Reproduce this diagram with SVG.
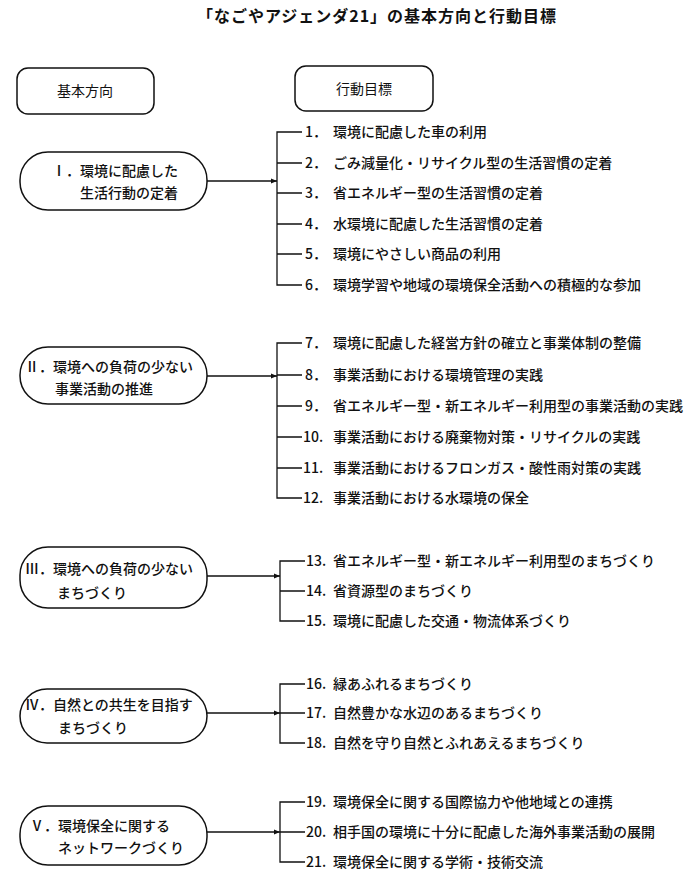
<svg xmlns="http://www.w3.org/2000/svg" width="700" height="874" viewBox="0 0 700 874">
<defs>
<style>
text{font-family:"Noto Sans CJK JP","Noto Sans CJK SC",sans-serif;fill:#111;}
.title{font-size:16px;font-weight:bold;letter-spacing:1px;}
.hdr{font-size:14px;}
.node{font-size:14px;font-weight:500;}
.item{font-size:14px;font-weight:500;}
.box{fill:#fff;stroke:#111;stroke-width:1.5;}
.ln{fill:none;stroke:#111;stroke-width:1.3;}
</style>
<marker id="arr" viewBox="0 0 10 10" refX="10" refY="5" markerWidth="6" markerHeight="6" orient="auto" markerUnits="userSpaceOnUse">
<path d="M0,1 L10,5 L0,9 z" fill="#111"/>
</marker>
</defs>
<rect width="700" height="874" fill="#fff"/>
<text class="title" x="377" y="22" text-anchor="middle">「なごやアジェンダ21」の基本方向と行動目標</text>

<g id="hdr-left"><rect class="box" x="17" y="68" width="137" height="46" rx="11"/><text class="hdr" x="85" y="96" text-anchor="middle">基本方向</text></g>
<g id="hdr-right"><rect class="box" x="295" y="66" width="138" height="45" rx="11"/><text class="hdr" x="364" y="94" text-anchor="middle">行動目標</text></g>

<g id="node-I"><rect class="box" x="20" y="152" width="187" height="58" rx="28"/>
<text class="node" x="52" y="176">Ⅰ．環境に配慮した</text><text class="node" x="80" y="198">生活行動の定着</text></g>
<g id="node-II"><rect class="box" x="20" y="347" width="187" height="57" rx="28"/>
<text class="node" x="25" y="372">Ⅱ．環境への負荷の少ない</text><text class="node" x="55" y="394">事業活動の推進</text></g>
<g id="node-III"><rect class="box" x="20" y="547" width="187" height="61" rx="28"/>
<text class="node" x="25" y="574">Ⅲ．環境への負荷の少ない</text><text class="node" x="57" y="598">まちづくり</text></g>
<g id="node-IV"><rect class="box" x="20" y="689" width="187" height="54" rx="27"/>
<text class="node" x="25" y="710">Ⅳ．自然との共生を目指す</text><text class="node" x="58" y="733">まちづくり</text></g>
<g id="node-V"><rect class="box" x="20" y="806" width="187" height="59" rx="28"/>
<text class="node" x="30" y="831">Ⅴ．環境保全に関する</text><text class="node" x="58" y="853">ネットワークづくり</text></g>

<g id="connectors">
<path class="ln" d="M207,181 H277" marker-end="url(#arr)"/>
<path class="ln" d="M302,132 H277 V285 H302 M277,163 H302 M277,193 H302 M277,224 H302 M277,254 H302"/>
<path class="ln" d="M207,376 H277" marker-end="url(#arr)"/>
<path class="ln" d="M302,343 H277 V498 H302 M277,375 H302 M277,406 H302 M277,437 H302 M277,468 H302"/>
<path class="ln" d="M207,576 H280" marker-end="url(#arr)"/>
<path class="ln" d="M305,561 H280 V621 H305 M280,591 H305"/>
<path class="ln" d="M207,713 H280" marker-end="url(#arr)"/>
<path class="ln" d="M305,684 H280 V743 H305 M280,713 H305"/>
<path class="ln" d="M207,832 H280" marker-end="url(#arr)"/>
<path class="ln" d="M305,802 H280 V862 H305 M280,832 H305"/>
</g>

<g id="items" class="item">
<text class="item" y="137"><tspan x="305">1．</tspan><tspan x="333">環境に配慮した車の利用</tspan></text>
<text class="item" y="168"><tspan x="305">2．</tspan><tspan x="333">ごみ減量化・リサイクル型の生活習慣の定着</tspan></text>
<text class="item" y="198"><tspan x="305">3．</tspan><tspan x="333">省エネルギー型の生活習慣の定着</tspan></text>
<text class="item" y="229"><tspan x="305">4．</tspan><tspan x="333">水環境に配慮した生活習慣の定着</tspan></text>
<text class="item" y="259"><tspan x="305">5．</tspan><tspan x="333">環境にやさしい商品の利用</tspan></text>
<text class="item" y="290"><tspan x="305">6．</tspan><tspan x="333">環境学習や地域の環境保全活動への積極的な参加</tspan></text>
<text class="item" y="348"><tspan x="305">7．</tspan><tspan x="333">環境に配慮した経営方針の確立と事業体制の整備</tspan></text>
<text class="item" y="380"><tspan x="305">8．</tspan><tspan x="333">事業活動における環境管理の実践</tspan></text>
<text class="item" y="411"><tspan x="305">9．</tspan><tspan x="333">省エネルギー型・新エネルギー利用型の事業活動の実践</tspan></text>
<text class="item" y="442"><tspan x="303">10.</tspan><tspan x="333">事業活動における廃棄物対策・リサイクルの実践</tspan></text>
<text class="item" y="473"><tspan x="303">11.</tspan><tspan x="333">事業活動におけるフロンガス・酸性雨対策の実践</tspan></text>
<text class="item" y="503"><tspan x="303">12.</tspan><tspan x="333">事業活動における水環境の保全</tspan></text>
<text class="item" y="566"><tspan x="306">13.</tspan><tspan x="333">省エネルギー型・新エネルギー利用型のまちづくり</tspan></text>
<text class="item" y="596"><tspan x="306">14.</tspan><tspan x="333">省資源型のまちづくり</tspan></text>
<text class="item" y="626"><tspan x="306">15.</tspan><tspan x="333">環境に配慮した交通・物流体系づくり</tspan></text>
<text class="item" y="689"><tspan x="306">16.</tspan><tspan x="333">緑あふれるまちづくり</tspan></text>
<text class="item" y="718"><tspan x="306">17.</tspan><tspan x="333">自然豊かな水辺のあるまちづくり</tspan></text>
<text class="item" y="748"><tspan x="306">18.</tspan><tspan x="333">自然を守り自然とふれあえるまちづくり</tspan></text>
<text class="item" y="807"><tspan x="306">19.</tspan><tspan x="333">環境保全に関する国際協力や他地域との連携</tspan></text>
<text class="item" y="837"><tspan x="306">20.</tspan><tspan x="333">相手国の環境に十分に配慮した海外事業活動の展開</tspan></text>
<text class="item" y="867"><tspan x="306">21.</tspan><tspan x="333">環境保全に関する学術・技術交流</tspan></text>
</g>
</svg>
